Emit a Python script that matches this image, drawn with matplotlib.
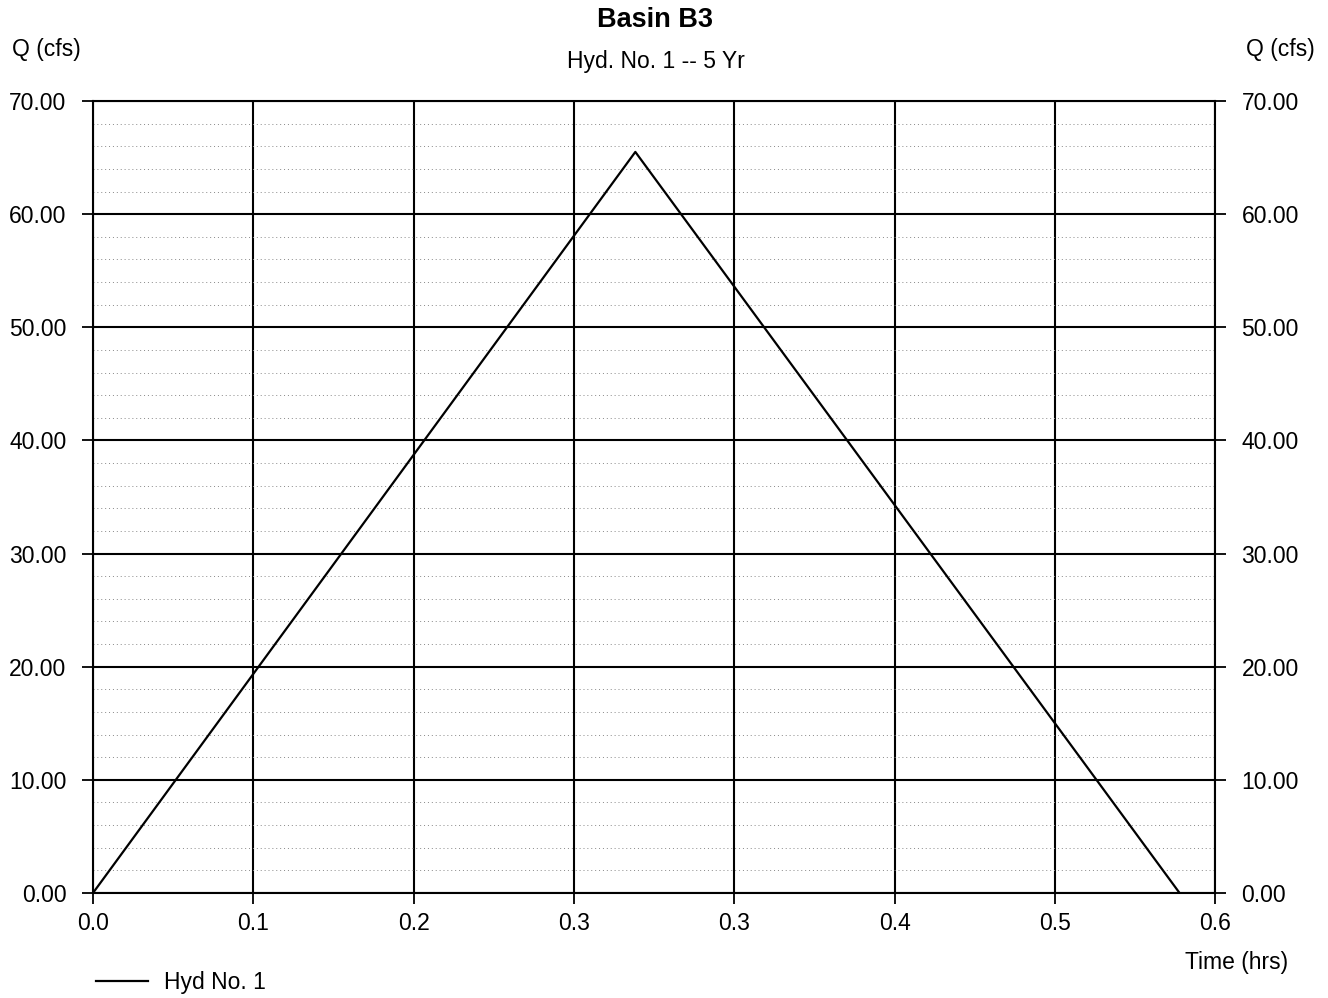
import numpy as np
import matplotlib.pyplot as plt

plt.rcParams['font.family'] = ['Liberation Sans', 'DejaVu Sans']

# hydrograph (triangular)
time_hrs = [0.0, 0.29, 0.581]
flow_cfs = [0.0, 65.5, 0.0]

x_tick_labels = ['0.0', '0.1', '0.2', '0.3', '0.3', '0.4', '0.5', '0.6']
y_ticks = [0, 10, 20, 30, 40, 50, 60, 70]

fig = plt.figure(figsize=(13.28, 9.98), dpi=100)
ax = fig.add_axes([0.070, 0.1052, 0.845, 0.7936])

x_ticks = np.linspace(0, 0.6, len(x_tick_labels))

ax.plot(time_hrs, flow_cfs, color='black', lw=1.6, label='Hyd No. 1', zorder=3)

ax.set_xlim(0, 0.6)
ax.set_ylim(0, 70)
ax.set_xticks(x_ticks)
ax.set_xticklabels(x_tick_labels)
ax.set_yticks(y_ticks)
ax.set_yticklabels(['%.2f' % v for v in y_ticks])
ax.set_yticks(np.arange(0, 71, 2), minor=True)

ax.grid(True, which='major', color='black', lw=1.5)
ax.grid(True, which='minor', axis='y', color='#888888', lw=0.7, ls=(0, (1, 3)))
ax.tick_params(axis='y', which='minor', length=0)
ax.tick_params(axis='both', which='major', labelsize=16.5, length=8, width=1.3,
               direction='out', right=True, labelright=True)
ax.tick_params(axis='y', pad=11)
ax.tick_params(axis='x', pad=6)
for s in ax.spines.values():
    s.set_linewidth(1.5)

fig.text(0.493, 0.980, 'Basin B3', ha='center', va='center', fontsize=19.5, fontweight='bold')
fig.text(0.494, 0.938, 'Hyd. No. 1 -- 5 Yr', ha='center', va='center', fontsize=16.5)
fig.text(0.035, 0.950, 'Q (cfs)', ha='center', va='center', fontsize=16.5)
fig.text(0.964, 0.950, 'Q (cfs)', ha='center', va='center', fontsize=16.5)
fig.text(0.931, 0.036, 'Time (hrs)', ha='center', va='center', fontsize=16.5)

ax.legend(loc='center left', bbox_to_anchor=(-0.016, -0.113), frameon=False,
          fontsize=16.5, handlelength=2.3, handletextpad=0.7)

fig.savefig('out.png', dpi=100)
